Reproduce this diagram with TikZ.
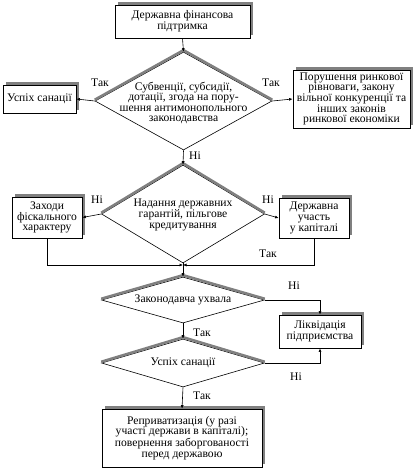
\documentclass[tikz,border=0pt]{standalone}
\usepackage{fontspec}
\setmainfont{Liberation Serif}
\usetikzlibrary{shapes.geometric,shadows,arrows.meta}
\begin{document}
\begin{tikzpicture}[x=1pt,y=-1pt,
  every node/.style={font=\fontsize{11.6}{10.6}\selectfont},
  box/.style={draw, fill=white, inner sep=1pt, align=center, line width=0.8pt,
    general shadow={fill=gray, shadow xshift=3pt, shadow yshift=3pt}},
  dia/.style={draw, diamond, inner sep=0pt, line width=0.6pt},
  dtext/.style={align=center, inner sep=0pt},
  lbl/.style={inner sep=0pt},
  conn/.style={line width=0.6pt},
  arr/.style={conn, -{Latex[length=3.5pt,width=3pt]}},
  dshadow/.style={gray, line width=2.6pt}]
\useasboundingbox (0,0) rectangle (417,470);
% boxes
\node[box, minimum width=135pt, minimum height=33pt] (top) at (182.5,21.5) {Державна фінансова\\підтримка};
\node[box, minimum width=73pt, minimum height=28pt] (succ1) at (39.5,99) {Успіх санації};
\node[box, minimum width=117pt, minimum height=58pt, inner sep=0pt] (viol) at (351.5,99) {Порушення ринкової\\рівноваги, закону\\вільної конкуренції та\\інших законів\\ринкової економіки};
\node[box, minimum width=70pt, minimum height=41pt] (fisc) at (47,217.5) {Заходи\\фіскального\\характеру};
\node[box, minimum width=70pt, minimum height=40pt] (part) at (314,218) {Державна\\участь\\у капіталі};
\node[box, minimum width=82pt, minimum height=33pt] (liq) at (320,331.5) {Ліквідація\\підприємства};
\node[box, minimum width=160pt, minimum height=58pt] (repr) at (182,438) {Реприватизація (у разі\\участі держави в капіталі);\\повернення заборгованості\\перед державою};
% diamonds
\node[dia, minimum width=177pt, minimum height=98pt] (d1) at (183.5,101) {};
\node[dia, minimum width=163pt, minimum height=98pt] (d2) at (183,214) {};
\node[dia, minimum width=163pt, minimum height=46pt] (d3) at (183,300) {};
\node[dia, minimum width=163pt, minimum height=48pt] (d4) at (183,363) {};
% diamond shadows on upper edges
\draw[dshadow] ([yshift=1.2pt]d1.west) -- ([yshift=1.5pt]d1.north) -- ([yshift=1.2pt]d1.east);
\draw[dshadow] ([yshift=1.2pt]d2.west) -- ([yshift=1.5pt]d2.north) -- ([yshift=1.2pt]d2.east);
\draw[dshadow] ([yshift=1.2pt]d3.west) -- ([yshift=1.5pt]d3.north) -- ([yshift=1.2pt]d3.east);
\draw[dshadow] ([yshift=1.2pt]d4.west) -- ([yshift=1.5pt]d4.north) -- ([yshift=1.2pt]d4.east);
% diamond texts
\node[dtext] (t1) at (183.5,103) {Субвенції, субсидії,\\дотації, згода на пору-\\шення антимонопольного\\законодавства};
\node[dtext] (t2) at (183,215) {Надання державних\\гарантій, пільгове\\кредитування};
\node[dtext] (t3) at (183,300) {Законодавча ухвала};
\node[dtext] (t4) at (183,363) {Успіх санації};
% connectors
\coordinate (j) at (183,265);
\draw[arr] (top.south) -- (d1.north);
\draw[arr] (d1.west) -- (succ1.east);
\draw[arr] (d1.east) -- (viol.west);
\draw[arr] (d1.south) -- (d2.north);
\draw[arr] (d2.west) -- (fisc.east);
\draw[arr] (d2.east) -- (part.west);
\draw[arr] (fisc.south) |- (j);
\draw[arr] (part.south) |- (j);
\draw[conn] (d2.south) -- (j);
\draw[arr] (j) -- (d3.north);
\draw[arr] (d3.east) -| (liq.north);
\draw[arr] (d3.south) -- (d4.north);
\draw[arr] (d4.east) -| (liq.south);
\draw[arr] (d4.south) -- (repr.north);
% labels
\node[lbl] (l1) at (100,83) {Так};
\node[lbl] (l2) at (271,83) {Так};
\node[lbl] (l3) at (195,156) {Ні};
\node[lbl] (l4) at (97,200) {Ні};
\node[lbl] (l5) at (268,200) {Ні};
\node[lbl] (l6) at (268,254) {Так};
\node[lbl] (l7) at (294,286) {Ні};
\node[lbl] (l8) at (202,333) {Так};
\node[lbl] (l9) at (296,377) {Ні};
\node[lbl] (l10) at (202,396) {Так};
\end{tikzpicture}
\end{document}
